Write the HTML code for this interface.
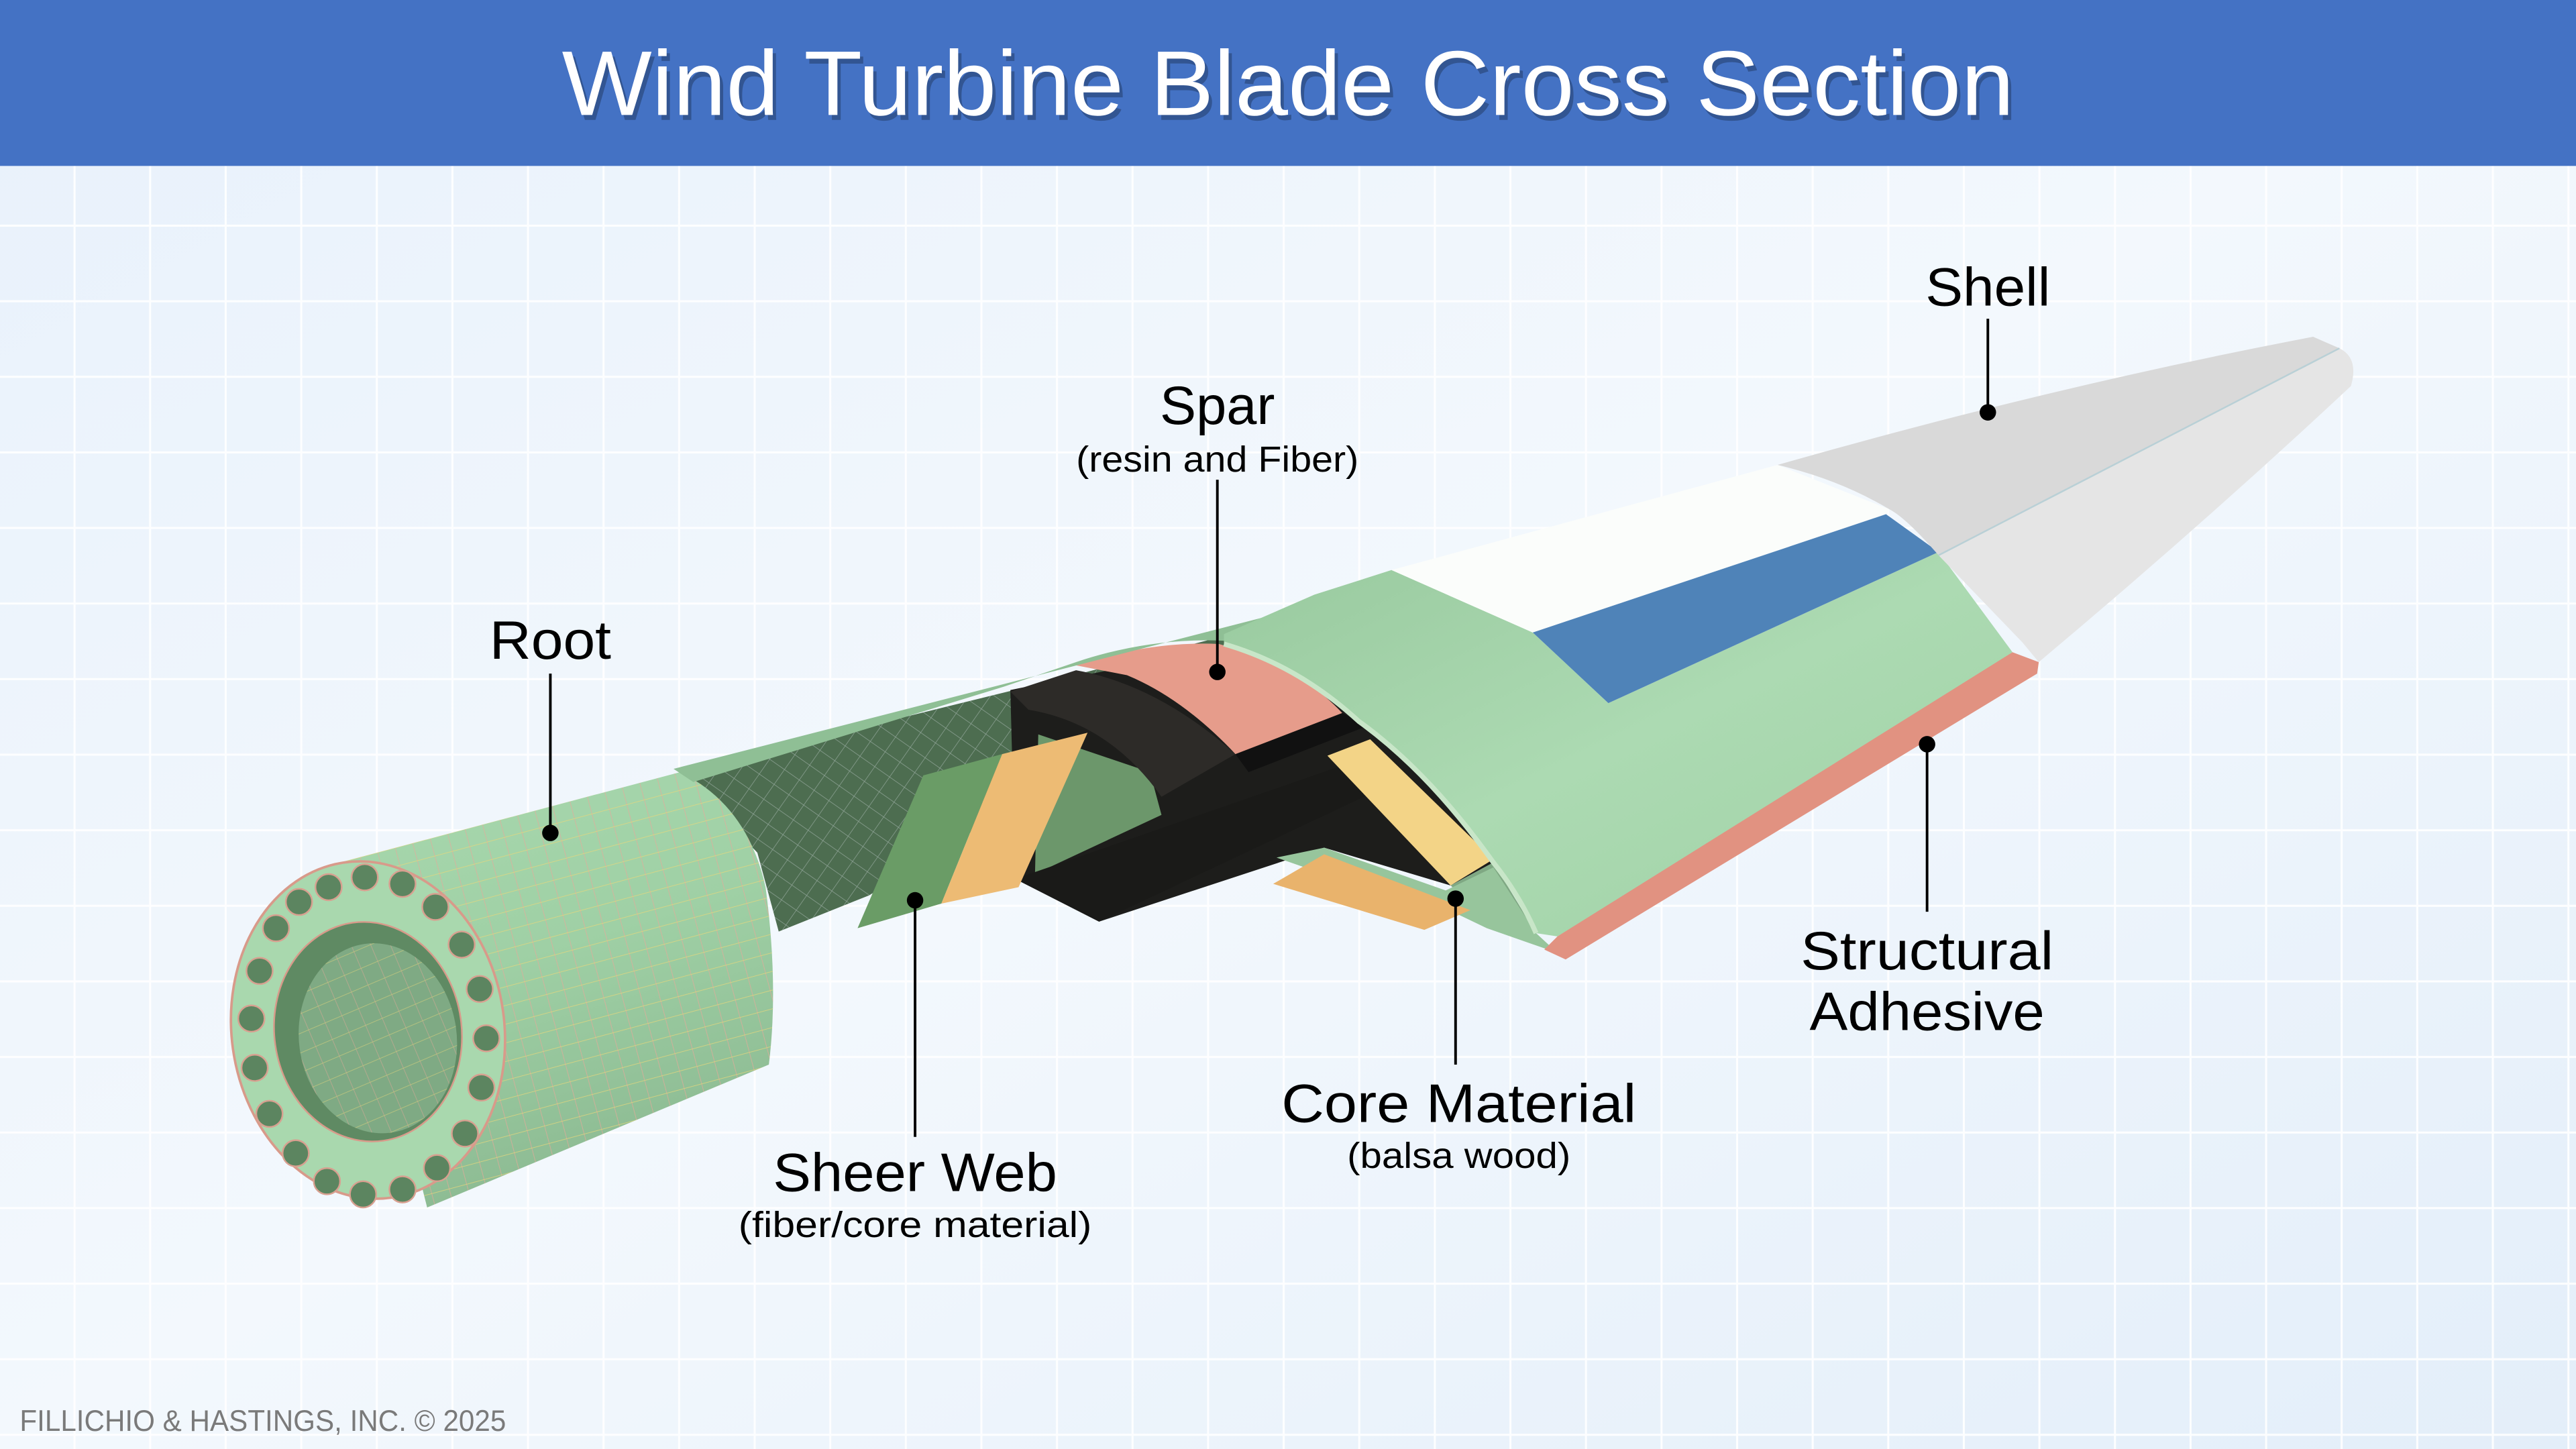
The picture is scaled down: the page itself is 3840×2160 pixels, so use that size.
<!DOCTYPE html>
<html><head><meta charset="utf-8"><style>
html,body{margin:0;padding:0;width:3840px;height:2160px;overflow:hidden;background:#eef5fc}
svg{display:block}
text{font-family:"Liberation Sans",sans-serif}
</style></head><body>
<svg width="3840" height="2160" viewBox="0 0 1568 882" xmlns="http://www.w3.org/2000/svg">
<defs>
<linearGradient id="bg" x1="0" y1="0" x2="1" y2="1">
<stop offset="0" stop-color="#e8f1fb"/><stop offset="0.5" stop-color="#f3f8fd"/><stop offset="1" stop-color="#e3eef9"/>
</linearGradient>
<pattern id="grid" width="46" height="46" patternUnits="userSpaceOnUse">
<path d="M46 0V46M0 46H46" stroke="#ffffff" stroke-width="2.5" fill="none" opacity="0.9"/>
</pattern>
<linearGradient id="tube" x1="0" y1="0" x2="0.3" y2="1">
<stop offset="0" stop-color="#a8d8ae"/><stop offset="0.5" stop-color="#9fd0a5"/><stop offset="1" stop-color="#8dbb93"/>
</linearGradient>
<linearGradient id="gface" x1="0" y1="0" x2="1" y2="1">
<stop offset="0" stop-color="#98c99e"/><stop offset="0.5" stop-color="#acdab2"/><stop offset="1" stop-color="#9fd1a5"/>
</linearGradient>
<pattern id="mesh" width="11" height="11" patternUnits="userSpaceOnUse" patternTransform="rotate(-15)">
<path d="M11 0V11" stroke="#e7a79a" stroke-width="0.7" fill="none" opacity="0.8"/>
<path d="M0 11H11" stroke="#e8d77a" stroke-width="0.7" fill="none" opacity="0.8"/>
</pattern>
<pattern id="mesh2" width="11" height="11" patternUnits="userSpaceOnUse" patternTransform="rotate(35)">
<path d="M11 0V11M0 11H11" stroke="#9fb0a8" stroke-width="0.6" fill="none" opacity="0.8"/>
</pattern>
</defs>
<rect width="1568" height="882" fill="url(#bg)"/>
<rect y="100" width="1568" height="782" fill="url(#grid)"/>
<rect width="1568" height="101" fill="#4472c4"/>
<text x="784" y="70" text-anchor="middle" font-size="56" fill="#000" opacity="0.25" textLength="884" lengthAdjust="spacingAndGlyphs" transform="translate(2,3)">Wind Turbine Blade Cross Section</text>
<text x="784" y="70" text-anchor="middle" font-size="56" fill="#fff" textLength="884" lengthAdjust="spacingAndGlyphs">Wind Turbine Blade Cross Section</text>

<polygon points="414,470 650,412 780,378 800,385 790,400 650,470 529,545 474,567 461,519" fill="#4d6d50"/>
<polygon points="414,470 650,412 700,400 650,470 529,545 474,567 461,519" fill="url(#mesh2)"/>
<path d="M207,525 L414,470 Q455,490 466,540 Q474,600 468,648 L260,735 Z" fill="url(#tube)"/>
<path d="M207,525 L414,470 Q455,490 466,540 Q474,600 468,648 L260,735 Z" fill="url(#mesh)"/>
<ellipse cx="224" cy="627" rx="83" ry="103" fill="#a9d8ae" stroke="#d89a8a" stroke-width="1.5" transform="rotate(-8 224 627)"/>
<ellipse cx="224" cy="628" rx="57" ry="67" fill="#5f8a63" stroke="#d89a8a" stroke-width="1" transform="rotate(-8 224 628)"/>
<ellipse cx="230" cy="632" rx="48" ry="58" fill="#7faa84" transform="rotate(-8 230 632)"/>
<ellipse cx="230" cy="632" rx="48" ry="58" fill="url(#mesh)" opacity="0.7" transform="rotate(-8 230 632)"/>
<g fill="#5c8560" stroke="#d8a090" stroke-width="1">
<circle cx="200" cy="540" r="8"/><circle cx="222" cy="534" r="8"/><circle cx="245" cy="538" r="8"/><circle cx="265" cy="552" r="8"/><circle cx="281" cy="575" r="8"/><circle cx="292" cy="602" r="8"/><circle cx="296" cy="632" r="8"/><circle cx="293" cy="662" r="8"/><circle cx="283" cy="690" r="8"/><circle cx="266" cy="711" r="8"/><circle cx="245" cy="724" r="8"/><circle cx="221" cy="727" r="8"/><circle cx="199" cy="719" r="8"/><circle cx="180" cy="702" r="8"/><circle cx="164" cy="678" r="8"/><circle cx="155" cy="650" r="8"/><circle cx="153" cy="620" r="8"/><circle cx="158" cy="591" r="8"/><circle cx="168" cy="565" r="8"/><circle cx="182" cy="549" r="8"/>
</g>

<path d="M615,420 L745,394 Q790,405 827,439 Q870,470 909,525 L883,539 L806,516 L669,561 L618,535 Z" fill="#1d1d1b"/>
<polygon points="632,447 700,470 707,496 630,532" fill="#6c976b"/>
<polygon points="618,535 820,465 845,478 669,561" fill="#1a1a18"/>
<polygon points="522,565 562,472 610,459 573,550" fill="#6a9c66"/>
<polygon points="573,550 610,459 662,446 620,540" fill="#edbb74"/>
<path d="M615,421 L655,408 Q705,417 752,459 L707,485 Q675,440 626,432 Z" fill="#2d2b28"/>
<polygon points="752,459 817,434 832,442 760,470" fill="#111"/>
<path d="M655,405 Q700,390 742,392 Q790,405 817,434 L752,459 Q720,425 686,411 Z" fill="#e69c8b"/>
<path d="M410,468 L780,373 L847,347 L800,366 Q770,380 745,390 Q700,388 655,403 L611,418 L422,476 Z" fill="#8fbf95"/>
<polygon points="883,539 909,525 935,568 905,560" fill="#7fa883"/>
<polygon points="777,522 806,516 880,542 909,528 935,568 948,580 905,565 880,553 800,530" fill="#97c59c"/>
<polygon points="775,538 806,520 895,554 867,566" fill="#e9b36c"/>
<polygon points="808,460 834,450 909,523 883,539" fill="#f3d487"/>
<path d="M745,386 L800,362 L847,347 L933,385 L979,428 L1180,336 L1225,397 Q1100,480 948,570 L935,568 Q925,545 909,525 Q870,470 827,439 Q790,405 745,392 Z" fill="url(#gface)"/>
<path d="M745,392 Q790,405 827,439 Q870,470 909,525 Q925,545 935,568" fill="none" stroke="#c8e6c8" stroke-width="3"/>
<polygon points="847,347 1082,283 1150,310 1148,313 933,385" fill="#fbfdfb"/>
<polygon points="933,385 1148,313 1180,336 979,428" fill="#4f83b8"/>
<path d="M1082,283 Q1250,235 1408,205 L1424,212 L1180,338 Q1160,315 1150,310 Q1120,292 1082,283 Z" fill="#d9d9d9"/>
<path d="M1180,338 L1424,212 Q1436,218 1431,235 Q1340,320 1241,403 L1231,391 Z" fill="#e5e5e5"/>
<line x1="1180" y1="338" x2="1424" y2="212" stroke="#b9d0d6" stroke-width="1"/>
<polygon points="948,570 1225,397 1241,403 1240,410 953,584 940,578" fill="#e19281"/>

<g stroke="#000" stroke-width="1.6">
<line x1="1210" y1="194" x2="1210" y2="250"/>
<line x1="741" y1="292" x2="741" y2="408"/>
<line x1="335" y1="410" x2="335" y2="506"/>
<line x1="557" y1="548" x2="557" y2="692"/>
<line x1="886" y1="547" x2="886" y2="648"/>
<line x1="1173" y1="453" x2="1173" y2="555"/>
</g>
<g fill="#000">
<circle cx="1210" cy="251" r="5"/><circle cx="741" cy="409" r="5"/><circle cx="335" cy="507" r="5"/>
<circle cx="557" cy="548" r="5"/><circle cx="886" cy="547" r="5"/><circle cx="1173" cy="453" r="5"/>
</g>
<g fill="#000" text-anchor="middle">
<text x="1210" y="186" font-size="33" textLength="76" lengthAdjust="spacingAndGlyphs">Shell</text>
<text x="741" y="258" font-size="33" textLength="70" lengthAdjust="spacingAndGlyphs">Spar</text>
<text x="741" y="287" font-size="22" textLength="172" lengthAdjust="spacingAndGlyphs">(resin and Fiber)</text>
<text x="335" y="401" font-size="33" textLength="74" lengthAdjust="spacingAndGlyphs">Root</text>
<text x="557" y="725" font-size="33" textLength="173" lengthAdjust="spacingAndGlyphs">Sheer Web</text>
<text x="557" y="753" font-size="22" textLength="215" lengthAdjust="spacingAndGlyphs">(fiber/core material)</text>
<text x="888" y="683" font-size="33" textLength="216" lengthAdjust="spacingAndGlyphs">Core Material</text>
<text x="888" y="711" font-size="22" textLength="136" lengthAdjust="spacingAndGlyphs">(balsa wood)</text>
<text x="1173" y="590" font-size="33" textLength="154" lengthAdjust="spacingAndGlyphs">Structural</text>
<text x="1173" y="627" font-size="33" textLength="143" lengthAdjust="spacingAndGlyphs">Adhesive</text>
</g>
<text x="12" y="871" font-size="18" fill="#7a7a7a" textLength="296" lengthAdjust="spacingAndGlyphs">FILLICHIO &amp; HASTINGS, INC. © 2025</text>
</svg>
</body></html>
